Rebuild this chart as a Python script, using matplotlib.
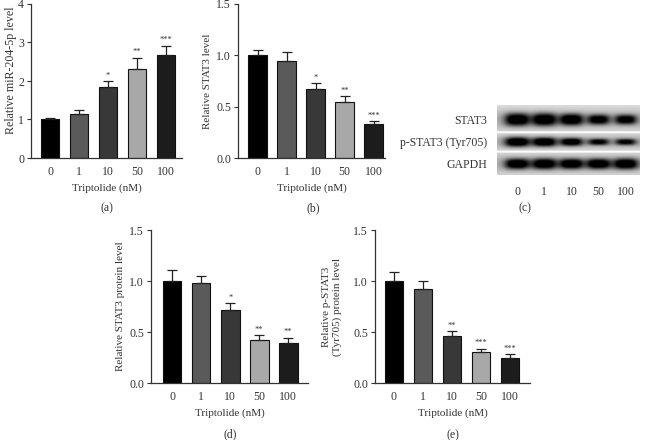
import matplotlib.pyplot as plt
import numpy as np

plt.rcParams["font.family"] = ["Liberation Serif", "DejaVu Serif"]
plt.rcParams["text.color"] = "#333333"
plt.rcParams["axes.labelcolor"] = "#333333"
plt.rcParams["xtick.color"] = "#333333"
plt.rcParams["ytick.color"] = "#333333"

doses = ["0", "1", "10", "50", "100"]
bar_colors = ["#000000", "#5a5a5a", "#383838", "#a8a8a8", "#1c1c1c"]

# (a) miR-204-5p
mir_mean = [1.00, 1.14, 1.85, 2.32, 2.67]
mir_err = [0.03, 0.10, 0.15, 0.29, 0.25]
mir_sig = ["", "", "*", "**", "***"]

# (b) STAT3 mRNA
stat3_mean = [1.00, 0.94, 0.67, 0.55, 0.33]
stat3_err = [0.05, 0.09, 0.06, 0.05, 0.03]
stat3_sig = ["", "", "*", "**", "***"]

# (d) STAT3 protein
stat3p_mean = [1.00, 0.98, 0.72, 0.42, 0.39]
stat3p_err = [0.11, 0.07, 0.06, 0.05, 0.055]
stat3p_sig = ["", "", "*", "**", "**"]

# (e) p-STAT3 protein
pstat3_mean = [1.00, 0.92, 0.46, 0.30, 0.25]
pstat3_err = [0.09, 0.08, 0.045, 0.035, 0.035]
pstat3_sig = ["", "", "**", "***", "***"]

# (c) western blot band intensities
blot_rows = ["STAT3", "p-STAT3 (Tyr705)", "GAPDH"]
blot_int = [
    [1.00, 1.00, 0.85, 0.62, 0.58],
    [1.00, 0.90, 0.68, 0.42, 0.40],
    [0.95, 1.00, 0.92, 0.92, 1.00],
]

W, H = 646, 440
fig = plt.figure(figsize=(W / 100, H / 100), dpi=100)


def px_axes(x0, x1, y_top, y_bot):
    return fig.add_axes([x0 / W, 1 - y_bot / H, (x1 - x0) / W, (y_bot - y_top) / H])


def bar_panel(ax, mean, err, sig, ylim, yticks, ylabel, xlim, star_off, ylabel_size=8):
    x = np.arange(len(doses))
    ax.bar(x, mean, width=0.64, color=bar_colors, edgecolor="#111111", linewidth=0.8)
    ax.errorbar(x, mean, yerr=[np.zeros(len(err)), err], fmt="none",
                ecolor="#222222", elinewidth=0.9, capsize=3.5, capthick=0.9)
    for xi, m, e, s in zip(x, mean, err, sig):
        if s:
            ax.text(xi, m + e + star_off, s, ha="center", va="bottom", fontsize=6)
    ax.set_xlim(*xlim)
    ax.set_ylim(*ylim)
    ax.set_yticks(yticks)
    if isinstance(yticks[1], float):
        ax.set_yticklabels([f"{t:.1f}" for t in yticks])
    ax.set_xticks(x)
    ax.set_xticklabels(doses)
    ax.tick_params(axis="x", length=0, pad=6, labelsize=8.5)
    ax.tick_params(axis="y", length=3, width=0.8, labelsize=8.5, pad=2)
    for s in ["top", "right"]:
        ax.spines[s].set_visible(False)
    for s in ["left", "bottom"]:
        ax.spines[s].set_linewidth(0.9)
        ax.spines[s].set_color("#333333")
    ax.set_xlabel("Triptolide (nM)", fontsize=8, labelpad=4)
    ax.set_ylabel(ylabel, fontsize=ylabel_size, labelpad=3)


ax_a = px_axes(31, 182, 4, 158)
bar_panel(ax_a, mir_mean, mir_err, mir_sig, (0, 4), [0, 1, 2, 3, 4],
          "Relative miR-204-5p level", (-0.655, 4.55), 0.04, ylabel_size=8.6)
ax_a.yaxis.set_label_coords(-0.093, 0.57)

ax_b = px_axes(238, 385, 4, 158)
bar_panel(ax_b, stat3_mean, stat3_err, stat3_sig, (0, 1.5), [0.0, 0.5, 1.0, 1.5],
          "Relative STAT3 level", (-0.68, 4.39), 0.015)
ax_b.yaxis.set_label_coords(-0.18, 0.5)

ax_d = px_axes(151, 308, 230, 383)
bar_panel(ax_d, stat3p_mean, stat3p_err, stat3p_sig, (0, 1.5), [0.0, 0.5, 1.0, 1.5],
          "Relative STAT3 protein level", (-0.73, 4.68), 0.015)
ax_d.yaxis.set_label_coords(-0.166, 0.5)

ax_e = px_axes(375, 530, 230, 383)
bar_panel(ax_e, pstat3_mean, pstat3_err, pstat3_sig, (0, 1.5), [0.0, 0.5, 1.0, 1.5],
          "Relative p-STAT3\n(Tyr705) protein level", (-0.655, 4.69), 0.015)
ax_e.yaxis.set_label_coords(-0.21, 0.5)

# (c) blot, built in pixel rows
ax_c = px_axes(497, 640, 105, 175)
xs = np.linspace(-0.74, 4.52, 300)
strip_h = [27, 18, 23]
band_h = [6.5, 5.0, 5.5]
strips = []
centers = []
top = 0
for r, ints in enumerate(blot_int):
    ys = np.arange(strip_h[r]) + 0.5
    yc = strip_h[r] / 2 + (1.5 if r == 0 else 0)
    X, Y = np.meshgrid(xs, ys)
    img = np.full(X.shape, 0.93)
    for i, v in enumerate(ints):
        w = 0.46 * (0.75 + 0.25 * v)
        hh = band_h[r] * (0.45 + 0.55 * v)
        img -= 0.92 * min(1.0, 0.6 + 0.5 * v) * np.exp(-(np.abs(X - i) / w) ** 3) \
            * np.exp(-(np.abs(Y - yc) / hh) ** 2.5)
        img -= 0.05 * np.exp(-(np.abs(Y - yc) / (hh * 2.2)) ** 2)
    strips.append(img)
    centers.append(top + yc)
    top += strip_h[r]
    if r < len(blot_int) - 1:
        strips.append(np.full((2, len(xs)), 0.99))
        top += 2
blot = np.clip(np.vstack(strips), 0, 1)
ax_c.imshow(blot, cmap="gray", vmin=0, vmax=1, aspect="auto",
            extent=[xs[0], xs[-1], blot.shape[0], 0], interpolation="bilinear")
ax_c.set_xlim(xs[0], xs[-1])
ax_c.set_yticks(centers)
ax_c.set_yticklabels(blot_rows)
ax_c.set_xticks(np.arange(len(doses)))
ax_c.set_xticklabels(doses)
ax_c.tick_params(length=0, labelsize=8.5, pad=7)
ax_c.tick_params(axis="x", pad=8)
for s in ax_c.spines.values():
    s.set_visible(False)

# panel letters
for label, xpx, ypx in [("(a)", 107, 208), ("(b)", 313, 208), ("(c)", 525, 208),
                        ("(d)", 230, 434), ("(e)", 453, 435)]:
    fig.text(xpx / W, 1 - ypx / H, label, ha="center", va="center", fontsize=8.5)

fig.savefig("out.png", dpi=100, facecolor="white")
